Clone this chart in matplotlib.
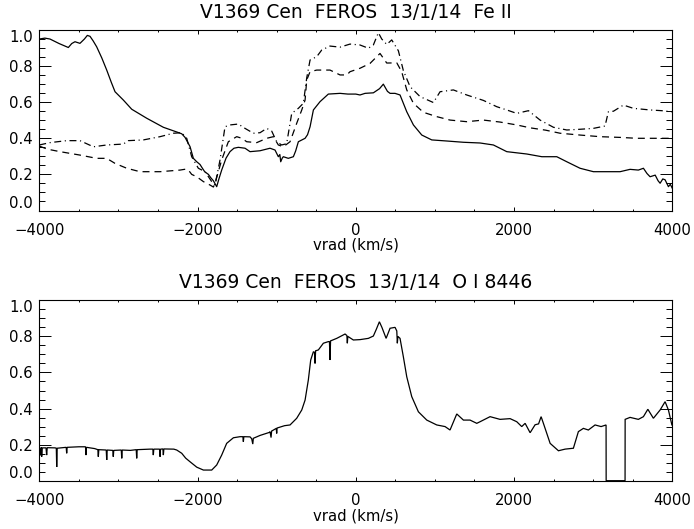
import matplotlib
matplotlib.use("Agg")
import matplotlib.pyplot as plt
from matplotlib.ticker import MultipleLocator, FixedLocator

plt.rcParams['font.family'] = ['DejaVu Sans']
plt.rcParams['lines.scale_dashes'] = False

# ---------------- data ----------------
title_top = "V1369 Cen  FEROS  13/1/14  Fe II"
title_bot = "V1369 Cen  FEROS  13/1/14  O I 8446"
xlabel = "vrad (km/s)"
xticks = [-4000, -2000, 0, 2000, 4000]
yticks = [0.0, 0.2, 0.4, 0.6, 0.8, 1.0]
ytick_labels = ["0.0", "0.2", "0.4", "0.6", "0.8", "1.0"]

fe_solid_v = [-4000, -3930, -3865, -3750, -3633, -3590, -3549, -3486, -3430, -3393, -3359, -3320,
              -3275, -3210, -3148, -3090, -3043, -2938, -2832, -2642, -2432, -2263, -2200, -2158,
              -2095, -2053, -2010, -1969, -1940, -1910, -1863, -1830, -1800, -1758, -1730, -1695,
              -1640, -1590, -1540, -1485, -1400, -1337, -1210, -1084, -1021, -979, -960, -949,
              -930, -916, -853, -789, -760, -726, -641, -610, -578, -536, -452, -347, -199, -100,
              0, 53, 117, 222, 300, 348, 400, 433, 496, 559, 644, 728, 834, 960, 1150, 1360,
              1571, 1739, 1908, 2161, 2351, 2540, 2667, 2834, 3003, 3172, 3340, 3466, 3571, 3635,
              3680, 3719, 3784, 3820, 3846, 3880, 3909, 3951, 3975, 4000]
fe_solid_y = [0.950, 0.955, 0.950, 0.925, 0.903, 0.925, 0.935, 0.926, 0.950, 0.970, 0.965, 0.940,
              0.907, 0.845, 0.778, 0.710, 0.658, 0.612, 0.561, 0.511, 0.461, 0.435, 0.425, 0.405,
              0.354, 0.289, 0.270, 0.255, 0.235, 0.215, 0.200, 0.180, 0.165, 0.132, 0.175, 0.224,
              0.290, 0.326, 0.345, 0.350, 0.345, 0.326, 0.331, 0.345, 0.335, 0.298, 0.310, 0.270,
              0.290, 0.298, 0.289, 0.298, 0.330, 0.381, 0.400, 0.420, 0.464, 0.557, 0.603, 0.645,
              0.649, 0.645, 0.645, 0.640, 0.649, 0.652, 0.675, 0.700, 0.660, 0.649, 0.649, 0.640,
              0.547, 0.474, 0.418, 0.391, 0.385, 0.378, 0.374, 0.363, 0.326, 0.313, 0.298, 0.298,
              0.270, 0.234, 0.215, 0.215, 0.215, 0.228, 0.224, 0.234, 0.205, 0.187, 0.196, 0.165,
              0.151, 0.175, 0.170, 0.132, 0.145, 0.123]

fe_dash_v = [-4000, -3900, -3738, -3486, -3275, -3148, -3043, -2895, -2727, -2474, -2221, -2137,
             -2100, -2074, -2010, -1926, -1842, -1800, -1779, -1695, -1611, -1505, -1440, -1379,
             -1252, -1126, -1042, -979, -916, -831, -747, -683, -641, -620, -578, -494, -326,
             -199, -114, -73, 53, 180, 306, 391, 518, 580, 644, 728, 854, 1023, 1191, 1402, 1612,
             1823, 2034, 2203, 2400, 2582, 2834, 3087, 3340, 3551, 3761, 4000]
fe_dash_y = [0.357, 0.340, 0.326, 0.307, 0.289, 0.289, 0.261, 0.234, 0.215, 0.215, 0.224, 0.230,
             0.215, 0.200, 0.187, 0.160, 0.141, 0.130, 0.151, 0.280, 0.381, 0.409, 0.400, 0.381,
             0.376, 0.400, 0.409, 0.363, 0.353, 0.381, 0.483, 0.557, 0.612, 0.723, 0.769, 0.778,
             0.778, 0.751, 0.751, 0.769, 0.788, 0.815, 0.870, 0.817, 0.818, 0.769, 0.668, 0.594,
             0.544, 0.520, 0.501, 0.492, 0.501, 0.490, 0.474, 0.458, 0.445, 0.428, 0.418, 0.409,
             0.405, 0.400, 0.400, 0.400]

fe_dashdot_v = [-4000, -3865, -3654, -3486, -3317, -3148, -2938, -2875, -2685, -2474, -2306, -2200,
                -2137, -2074, -1990, -1905, -1821, -1779, -1716, -1653, -1590, -1485, -1400, -1295,
                -1210, -1126, -1063, -1000, -937, -874, -810, -726, -663, -620, -578, -494, -431,
                -326, -199, -73, 53, 159, 222, 285, 328, 391, 454, 538, 601, 686, 812, 981, 1065,
                1233, 1402, 1612, 1782, 1908, 2034, 2182, 2329, 2498, 2667, 2834, 3003, 3150, 3192,
                3256, 3382, 3508, 3719, 3867, 4000]
fe_dashdot_y = [0.363, 0.376, 0.387, 0.387, 0.353, 0.363, 0.368, 0.387, 0.391, 0.409, 0.428, 0.431,
                0.400, 0.298, 0.234, 0.215, 0.160, 0.141, 0.280, 0.464, 0.474, 0.479, 0.455, 0.428,
                0.431, 0.455, 0.440, 0.381, 0.363, 0.370, 0.538, 0.566, 0.594, 0.735, 0.834, 0.852,
                0.889, 0.911, 0.905, 0.922, 0.917, 0.899, 0.917, 0.985, 0.950, 0.920, 0.945, 0.885,
                0.775, 0.686, 0.631, 0.598, 0.658, 0.668, 0.640, 0.610, 0.575, 0.557, 0.538, 0.553,
                0.501, 0.461, 0.446, 0.450, 0.455, 0.468, 0.547, 0.550, 0.584, 0.566, 0.557, 0.553,
                0.547]

oi_v = [-4000, -3985, -3975, -3970, -3962, -3915, -3907, -3900, -3800, -3785, -3780, -3774,
        -3660, -3654, -3648, -3500, -3416, -3410, -3404, -3300, -3260, -3254, -3248, -3154,
        -3148, -3142, -3071, -3065, -3059, -2964, -2958, -2952, -2850, -2775, -2769, -2763,
        -2600, -2565, -2559, -2553, -2480, -2474, -2468, -2438, -2432, -2426, -2300, -2263,
        -2200, -2150, -2095, -2010, -1926, -1821, -1758, -1695, -1632, -1547, -1463, -1427,
        -1421, -1415, -1337, -1316, -1302, -1295, -1210, -1090, -1084, -1071, -1064, -1005,
        -1000, -995, -900, -831, -747, -683, -641, -600, -570, -536, -522, -515, -508, -473,
        -410, -347, -333, -326, -319, -241, -136, -113, -107, -101, -31, 53, 159, 222, 260,
        298, 330, 383, 433, 496, 518, 525, 532, 559, 601, 644, 707, 791, 897, 1023, 1128,
        1191, 1276, 1360, 1444, 1529, 1571, 1697, 1823, 1950, 2034, 2097, 2140, 2203, 2266,
        2310, 2342, 2371, 2456, 2561, 2645, 2750, 2813, 2876, 2939, 3024, 3100, 3163, 3164,
        3403, 3404, 3466, 3571, 3635, 3691, 3761, 3846, 3909, 3951, 3995]
oi_y = [0.188, 0.140, 0.185, 0.133, 0.182, 0.182, 0.142, 0.183, 0.182, 0.180, 0.076, 0.180,
        0.185, 0.152, 0.185, 0.188, 0.188, 0.142, 0.185, 0.178, 0.172, 0.133, 0.172, 0.170,
        0.115, 0.170, 0.168, 0.133, 0.168, 0.170, 0.124, 0.170, 0.168, 0.172, 0.124, 0.172,
        0.175, 0.175, 0.142, 0.175, 0.175, 0.133, 0.175, 0.176, 0.142, 0.176, 0.175, 0.170,
        0.152, 0.125, 0.105, 0.075, 0.059, 0.059, 0.087, 0.142, 0.207, 0.238, 0.244, 0.244,
        0.216, 0.244, 0.243, 0.233, 0.203, 0.235, 0.251, 0.268, 0.272, 0.239, 0.275, 0.290,
        0.262, 0.292, 0.305, 0.309, 0.346, 0.392, 0.447, 0.558, 0.669, 0.715, 0.712, 0.650,
        0.720, 0.725, 0.762, 0.771, 0.771, 0.669, 0.775, 0.789, 0.813, 0.805, 0.762, 0.800,
        0.780, 0.782, 0.789, 0.802, 0.840, 0.881, 0.850, 0.789, 0.845, 0.850, 0.830, 0.762,
        0.800, 0.789, 0.687, 0.576, 0.466, 0.382, 0.336, 0.309, 0.300, 0.281, 0.370, 0.336,
        0.336, 0.318, 0.327, 0.355, 0.340, 0.344, 0.327, 0.300, 0.318, 0.266, 0.310, 0.315,
        0.355, 0.318, 0.207, 0.166, 0.175, 0.180, 0.272, 0.290, 0.281, 0.309, 0.300, 0.309,
        0.0, 0.0, 0.340, 0.351, 0.340, 0.355, 0.396, 0.346, 0.392, 0.438, 0.392, 0.309]

# ---------------- figure ----------------
W, H = 694, 529
fig = plt.figure(figsize=(W / 100, H / 100), dpi=100)

def px_axes(left, top, right, bottom):
    return fig.add_axes([left / W, 1 - bottom / H, (right - left) / W, (bottom - top) / H])

ax1 = px_axes(39.3, 30, 672.3, 210.5)
ax2 = px_axes(39.3, 300.3, 672.3, 480.7)

lw = 0.9
ax1.plot(fe_solid_v, fe_solid_y, color='black', lw=lw, solid_joinstyle='round')
ax1.plot(fe_dash_v, fe_dash_y, color='black', lw=lw, dashes=(5.0, 3.6))
ax1.plot(fe_dashdot_v, fe_dashdot_y, color='black', lw=lw, dashes=(5.0, 2.6, 0.8, 2.6))
ax2.plot(oi_v, oi_y, color='black', lw=lw, solid_joinstyle='miter')

for ax, title in ((ax1, title_top), (ax2, title_bot)):
    ax.set_xlim(-4000, 4000)
    ax.set_ylim(0, 1.0)
    ax.set_title(title, fontsize=13.5, pad=8.5)
    ax.set_xlabel(xlabel, fontsize=10.7, labelpad=0)
    ax.xaxis.set_major_locator(FixedLocator(xticks))
    ax.xaxis.set_minor_locator(MultipleLocator(500))
    ax.yaxis.set_major_locator(FixedLocator(yticks))
    ax.yaxis.set_minor_locator(MultipleLocator(0.05))
    ax.set_xticklabels([str(t).replace('-', '\u2212') for t in xticks])
    ax.set_yticklabels(ytick_labels)
    for s in ax.spines.values():
        s.set_linewidth(0.8)
    ax.tick_params(axis='both', which='both', direction='in', top=True, right=True,
                   labelsize=10.7, width=0.7, color='black')
    ax.tick_params(axis='x', which='major', length=3.2, pad=9)
    ax.tick_params(axis='x', which='minor', length=1.6)
    ax.tick_params(axis='y', which='major', length=8.8, pad=4.5)
    ax.tick_params(axis='y', which='minor', length=4.4)
    ticks = ax.yaxis.get_major_ticks()
    ticks[0].label1.set_va('bottom')
    ticks[-1].label1.set_va('top')

fig.savefig("out.png", dpi=100)
